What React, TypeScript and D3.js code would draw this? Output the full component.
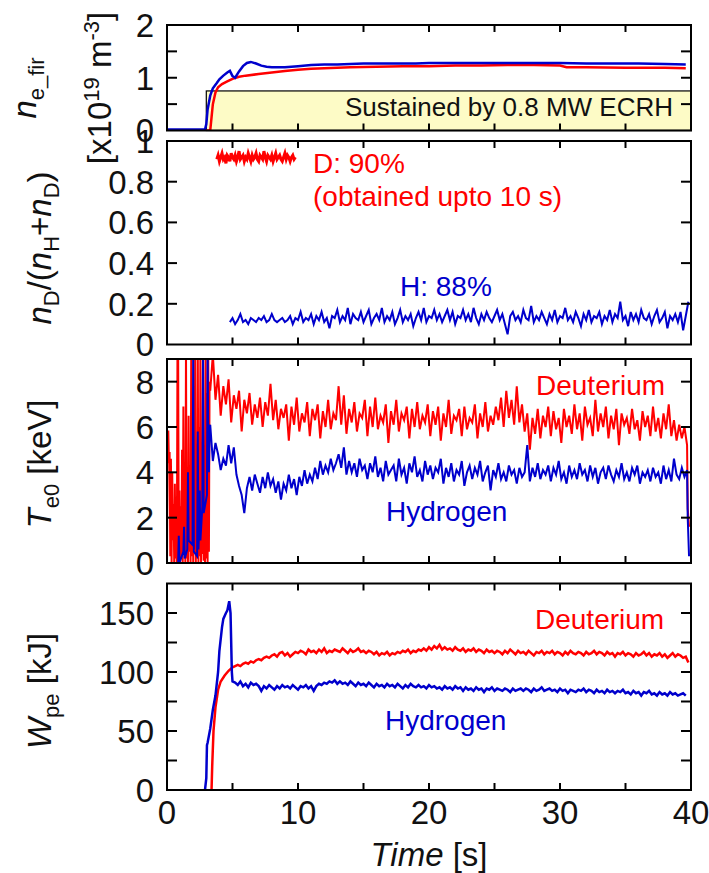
import React from "react";
import * as d3 from "d3";

// ---------- shared axis data ----------
const TIME_TICKS = [0, 5, 10, 15, 20, 25, 30, 35, 40];
const TIME_LABELS = [0, 10, 20, 30, 40];

// ---------- panel 1: line-averaged density ----------
const neHTime = [0, 2.9, 3.0, 3.1, 3.3, 3.5, 3.8, 4.0, 4.3, 4.6, 4.8, 5.0, 5.2, 5.5, 5.8, 6.1, 6.4, 6.8, 7.2, 7.6, 8.0, 9.0, 10.0, 11.0, 12.0, 13.0, 14.0, 15.0, 16.0, 17.0, 18.0, 19.0, 20.0, 22.0, 24.0, 26.0, 28.0, 30.0, 32.0, 34.0, 36.0, 38.0, 39.6];
const neHVal = [0.02, 0.02, 0.12, 0.4, 0.66, 0.8, 0.9, 0.97, 1.04, 1.1, 1.13, 1.03, 1.0, 1.12, 1.22, 1.28, 1.3, 1.27, 1.23, 1.21, 1.2, 1.2, 1.22, 1.24, 1.25, 1.25, 1.26, 1.27, 1.27, 1.27, 1.27, 1.27, 1.28, 1.28, 1.28, 1.28, 1.28, 1.28, 1.27, 1.27, 1.27, 1.26, 1.25];
const neDTime = [0, 3.3, 3.4, 3.5, 3.7, 3.9, 4.2, 4.6, 5.0, 5.5, 6.0, 7.0, 8.0, 9.0, 10.0, 11.0, 12.0, 14.0, 16.0, 18.0, 20.0, 22.0, 24.0, 26.0, 28.0, 30.0, 30.5, 32.0, 35.0, 38.0, 39.6];
const neDVal = [0, 0, 0.25, 0.5, 0.72, 0.82, 0.88, 0.93, 0.98, 1.02, 1.04, 1.07, 1.1, 1.13, 1.15, 1.17, 1.18, 1.2, 1.21, 1.22, 1.22, 1.23, 1.23, 1.24, 1.24, 1.23, 1.2, 1.2, 1.19, 1.19, 1.18];
const ECRH_START = 3.0;
const ECRH_LEVEL = 0.75;

// ---------- panel 2: isotope ratio ----------
const fracDStart = 3.8, fracDStep = 0.1;
const fracDVal = [0.91, 0.93, 0.9, 0.92, 0.94, 0.91, 0.92, 0.89, 0.93, 0.92, 0.9, 0.94, 0.92, 0.91, 0.93, 0.9, 0.92, 0.95, 0.91, 0.92, 0.93, 0.9, 0.92, 0.91, 0.94, 0.92, 0.9, 0.93, 0.91, 0.92, 0.94, 0.91, 0.9, 0.93, 0.92, 0.91, 0.95, 0.92, 0.9, 0.93, 0.92, 0.91, 0.93, 0.9, 0.92, 0.94, 0.91, 0.92, 0.93, 0.91, 0.9, 0.92, 0.94, 0.91, 0.93, 0.92, 0.9, 0.92, 0.93, 0.91, 0.92];
const fracHStart = 4.8, fracHStep = 0.2;
const fracHVal = [
  0.11, 0.13, 0.1, 0.12, 0.15, 0.11, 0.12, 0.1, 0.13, 0.12,
  0.11, 0.13, 0.12, 0.14, 0.11, 0.12, 0.15, 0.12, 0.11, 0.12,
  0.13, 0.11, 0.12, 0.14, 0.1, 0.13, 0.12, 0.16, 0.11, 0.13,
  0.12, 0.15, 0.1, 0.14, 0.12, 0.16, 0.11, 0.13, 0.08, 0.14,
  0.13, 0.17, 0.11, 0.14, 0.12, 0.18, 0.1, 0.15, 0.13, 0.12,
  0.16, 0.11, 0.14, 0.17, 0.1, 0.13, 0.15, 0.12, 0.18, 0.11,
  0.14, 0.12, 0.16, 0.1, 0.13, 0.17, 0.11, 0.14, 0.12, 0.15,
  0.09, 0.13, 0.16, 0.12, 0.18, 0.11, 0.14, 0.13, 0.17, 0.12,
  0.15, 0.11, 0.14, 0.17, 0.12, 0.16, 0.1, 0.14, 0.13, 0.17,
  0.12, 0.15, 0.11, 0.18, 0.13, 0.1, 0.15, 0.12, 0.16, 0.13,
  0.11, 0.14, 0.17, 0.12, 0.15, 0.1, 0.05, 0.14, 0.16, 0.12,
  0.14, 0.11, 0.17, 0.13, 0.12, 0.19, 0.11, 0.14, 0.12, 0.16,
  0.13, 0.1, 0.15, 0.12, 0.17, 0.11, 0.14, 0.13, 0.18, 0.12,
  0.14, 0.11, 0.16, 0.13, 0.09, 0.15, 0.12, 0.17, 0.11, 0.14,
  0.13, 0.16, 0.1, 0.14, 0.12, 0.17, 0.11, 0.15, 0.13, 0.21,
  0.12, 0.14, 0.09, 0.16, 0.12, 0.15, 0.11, 0.17, 0.13, 0.12,
  0.15, 0.1, 0.14, 0.17, 0.11, 0.13, 0.16, 0.08, 0.14, 0.12,
  0.15, 0.11, 0.16, 0.07, 0.14, 0.21,
];

// ---------- panel 3: central electron temperature ----------
const tePreStep = 0.05;
const teDPreStart = 0.0;
const teDPreVal = [0, 5.8, 5.8, 4.4, 4.9, 0.3, 4.6, 0, 4.0, 1.0, 2.6, 0, 3.5, 0.2, 1.2, 0, 9.6, 9.6, 0.1, 3.2, 0, 2.5, 0.3, 5.0, 0, 6.9, 0.4, 3.0, 0, 9.6, 0.2, 4.2, 0, 6.5, 0.5, 2.8, 0, 9.6, 0.3, 5.5, 0, 3.7, 0.6, 9.6, 0, 4.4, 0.2, 9.6, 0, 6.0, 0.3, 9.6, 0, 3.1, 0.4, 9.6, 0.1, 5.0, 0, 9.6, 0.2, 7.5, 0, 9.6, 0.5, 8.0];
const teHPreTime = [0.5, 0.85, 0.9, 0.95, 1.25, 1.3, 1.35, 1.55, 1.6, 1.65, 1.95, 2.0, 2.05, 2.3, 2.35, 2.4, 2.45, 2.5, 2.55, 2.7, 2.75, 2.8, 3.05, 3.1, 3.15, 3.2, 3.25];
const teHPreVal = [0, 0, 1.2, 0, 0.5, 1.6, 0.2, 0.6, 4.0, 1.0, 0.8, 9.6, 0.5, 0.3, 5.8, 0.6, 1.5, 3.2, 1.0, 2.5, 9.6, 2.2, 3.0, 9.6, 5.5, 4.0, 6.0];
const teStart = 3.3, teStep = 0.2;
const teDVal = [
  7.6, 9.2, 7.2, 8.3, 6.5, 7.8, 7.0, 8.1, 6.2, 7.4,
  6.8, 7.6, 5.8, 7.2, 6.6, 7.5, 6.1, 7.0, 6.4, 7.3,
  6.0, 7.1, 6.5, 7.9, 6.3, 7.2, 5.9, 6.8, 6.4, 7.0,
  5.4, 6.9, 6.1, 7.3, 5.8, 6.6, 6.2, 7.1, 5.6, 6.8,
  6.3, 7.0, 5.5, 6.7, 6.0, 7.2, 5.9, 6.6, 6.3, 7.8,
  6.1, 7.4, 5.7, 6.8, 6.2, 7.1, 5.8, 6.6, 6.4, 7.2,
  5.6, 6.9, 6.0, 7.3, 5.9, 6.5, 6.2, 7.0, 5.3, 6.7,
  6.1, 7.2, 5.8, 6.6, 6.3, 6.9, 5.5, 6.8, 6.0, 7.1,
  5.9, 6.5, 6.2, 7.0, 5.6, 6.7, 6.1, 6.9, 5.4, 6.6,
  6.0, 7.2, 5.7, 6.5, 6.3, 6.8, 5.6, 6.9, 5.9, 6.4,
  6.2, 7.0, 5.5, 6.6, 6.0, 7.1, 5.8, 6.5, 6.1, 6.9,
  6.3, 7.3, 6.0, 7.6, 6.4, 7.2, 6.1, 7.8, 6.2, 7.0,
  5.8, 6.6, 5.0, 6.4, 5.7, 6.8, 5.5, 6.5, 6.0, 6.9,
  5.6, 6.7, 5.9, 6.4, 5.3, 6.8, 6.0, 6.5, 5.7, 7.0,
  5.9, 6.6, 5.4, 6.9, 6.1, 6.4, 5.6, 7.2, 5.8, 6.6,
  6.0, 6.9, 5.5, 6.5, 5.9, 6.8, 5.2, 6.6, 6.1, 6.4,
  5.7, 6.8, 5.9, 6.3, 5.4, 6.7, 6.0, 6.5, 5.6, 6.9,
  5.8, 6.4, 5.5, 6.6, 5.9, 7.0, 5.6, 6.3, 5.4, 6.1,
  5.5, 6.0, 5.2,
];
const teHVal = [
  6.1, 4.5, 5.3, 4.8, 4.1, 4.6, 4.3, 5.2, 4.4, 5.1,
  3.9, 3.4, 3.0, 2.2, 3.3, 3.8, 3.2, 3.9, 3.5, 3.1,
  3.8, 3.3, 4.0, 3.4, 3.7, 3.1, 3.6, 2.8, 3.5, 3.2,
  3.9, 3.3, 3.7, 3.0, 3.8, 3.4, 4.1, 3.5, 3.9, 3.6,
  4.2, 3.7, 4.5, 3.9, 4.3, 4.0, 4.6, 4.1, 4.4, 4.8,
  4.2, 5.1, 3.9, 4.5, 4.0, 4.4, 3.8, 4.6, 4.1, 4.3,
  3.7, 4.4, 4.0, 4.7, 3.8, 4.2, 3.6, 4.5, 3.9, 4.1,
  4.3, 3.6, 4.6, 3.9, 4.2, 3.5, 4.4, 4.0, 4.7, 3.8,
  4.1, 3.6, 4.5, 3.9, 4.3, 3.7, 4.2, 4.0, 4.6, 3.5,
  4.2, 3.8, 4.4, 3.6, 4.1, 3.9, 4.5, 3.4, 4.0, 4.3,
  3.7, 4.2, 3.9, 4.5, 3.6, 4.0, 4.3, 3.2, 4.1, 3.8,
  4.4, 3.7, 4.0, 3.6, 4.3, 3.9, 4.1, 3.5, 4.2, 3.8,
  4.0, 5.2, 3.6, 4.2, 3.8, 4.4, 3.7, 4.1, 3.9, 4.3,
  3.6, 4.2, 3.9, 4.5, 3.7, 4.0, 3.5, 4.3, 3.8, 4.1,
  3.7, 4.4, 3.9, 4.1, 3.6, 4.3, 3.8, 4.2, 3.5, 4.0,
  4.2, 3.7, 4.3, 3.9, 3.6, 4.1, 3.8, 4.4, 3.7, 4.0,
  3.6, 4.2, 3.9, 4.3, 3.5, 4.0, 3.8, 4.1, 3.6, 4.2,
  3.8, 4.0, 3.5, 4.3, 3.7, 4.1, 3.6, 4.6, 3.9, 3.7,
  4.2, 3.8, 4.1,
];
const teDTailTime = [39.75, 39.85];
const teDTailVal = [2.4, 1.6];
const teHTailTime = [39.75, 39.85];
const teHTailVal = [2.0, 0.3];

// ---------- panel 4: stored energy ----------
const wpDRiseTime = [3.35, 3.4, 3.45, 3.55, 3.7, 3.9, 4.1, 4.4, 4.7, 5.0];
const wpDRiseVal = [0, 0, 20, 50, 70, 85, 92, 97, 101, 104];
const wpHRiseTime = [2.9, 3.0, 3.05, 3.1, 3.3, 3.5, 3.7, 3.9, 4.0, 4.2, 4.3, 4.5, 4.6, 4.75, 4.85, 4.95, 5.0];
const wpHRiseVal = [0, 10, 38, 40, 52, 68, 80, 100, 118, 138, 145, 150, 152, 160, 150, 100, 92];
const wpStart = 5.2, wpStep = 0.2;
const wpDVal = [
  105, 106, 105, 107, 108, 107, 109, 108, 110, 111,
  110, 112, 113, 112, 114, 115, 113, 116, 117, 114,
  116, 113, 115, 117, 116, 118, 117, 115, 119, 117,
  118, 116, 119, 117, 120, 116, 118, 117, 119, 118,
  117, 120, 118, 116, 119, 117, 118, 120, 117, 118,
  116, 118, 117, 115, 117, 114, 116, 115, 117, 114,
  116, 115, 117, 116, 118, 117, 119, 116, 118, 117,
  119, 118, 120, 118, 121, 119, 122, 120, 123, 119,
  121, 119, 120, 118, 121, 119, 118, 120, 117, 119,
  118, 120, 117, 119, 118, 116, 119, 117, 118, 116,
  118, 117, 115, 118, 116, 119, 117, 115, 118, 116,
  117, 115, 118, 116, 114, 117, 116, 118, 115, 117,
  116, 118, 115, 117, 116, 114, 117, 115, 118, 116,
  115, 117, 116, 114, 117, 115, 116, 118, 115, 117,
  116, 114, 117, 115, 116, 113, 116, 115, 117, 114,
  116, 115, 113, 116, 114, 115, 117, 114, 116, 113,
  115, 114, 116, 113, 115, 112, 114, 116, 113, 115,
  114, 112, 113, 108,
];
const wpHVal = [
  91, 89, 92, 88, 90, 87, 91, 89, 90, 88,
  84, 88, 86, 89, 87, 85, 88, 86, 89, 87,
  88, 86, 89, 87, 85, 88, 87, 89, 86, 88,
  84, 88, 90, 89, 91, 90, 92, 91, 93, 90,
  92, 90, 91, 89, 92, 90, 88, 91, 89, 90,
  88, 91, 89, 87, 90, 88, 89, 87, 90, 88,
  89, 87, 90, 88, 86, 89, 87, 90, 88, 87,
  89, 87, 88, 86, 89, 87, 88, 86, 87, 85,
  88, 86, 87, 85, 88, 86, 87, 84, 87, 85,
  86, 84, 87, 85, 86, 83, 86, 85, 87, 84,
  86, 85, 84, 86, 85, 83, 86, 84, 85, 86,
  84, 86, 85, 83, 86, 84, 85, 87, 84, 85,
  86, 84, 85, 83, 86, 84, 85, 82, 85, 84,
  83, 85, 84, 86, 83, 85, 84, 82, 85, 83,
  84, 82, 85, 83, 84, 82, 84, 83, 85, 82,
  83, 81, 84, 82, 83, 80, 83, 82, 84, 81,
  82, 80, 83, 81, 82, 80, 83, 81, 82, 80,
  81, 82, 80,
];

// ---------- helpers ----------
type Pt = [number, number];
const zipPts = (t: number[], v: number[]): Pt[] => t.map((tt, i) => [tt, v[i]] as Pt);
const evenPts = (start: number, step: number, v: number[]): Pt[] =>
  v.map((vv, i) => [+(start + i * step).toFixed(3), vv] as Pt);

const RED = "#ff0000";
const BLUE = "#0000cc";
const FONT = "'Liberation Sans', Arial, Helvetica, sans-serif";

const X0 = 167;
const X1 = 691;
const x = d3.scaleLinear().domain([0, 40]).range([X0, X1]);

interface PanelDef {
  id: string;
  top: number;
  bottom: number;
  domain: [number, number];
  ticks: number[];
  labels: number[];
  fmt: (v: number) => string;
}

const panels: PanelDef[] = [
  { id: "p1", top: 25, bottom: 130.5, domain: [0, 2], ticks: [0.5, 1, 1.5], labels: [0, 1, 2], fmt: (v) => String(v) },
  { id: "p2", top: 141, bottom: 344.5, domain: [0, 1], ticks: [0.2, 0.4, 0.6, 0.8], labels: [0, 0.2, 0.4, 0.6, 0.8, 1], fmt: (v) => String(v) },
  { id: "p3", top: 359, bottom: 563, domain: [0, 9], ticks: [2, 4, 6, 8], labels: [0, 2, 4, 6, 8], fmt: (v) => String(v) },
  { id: "p4", top: 583.5, bottom: 790, domain: [0, 175], ticks: [25, 50, 75, 100, 125, 150], labels: [0, 50, 100, 150], fmt: (v) => String(v) },
];

const yScale = (p: PanelDef) => d3.scaleLinear().domain(p.domain).range([p.bottom, p.top]);

function Frame({ p, showXLabels }: { p: PanelDef; showXLabels: boolean }) {
  const y = yScale(p);
  const tickLenY = 10;
  const tickLenX = 7;
  return (
    <g>
      {TIME_TICKS.filter((t) => t > 0 && t < 40).map((t) => (
        <g key={"xt" + t}>
          <line x1={x(t)} x2={x(t)} y1={p.bottom} y2={p.bottom - tickLenX} stroke="#000" strokeWidth={2} />
          <line x1={x(t)} x2={x(t)} y1={p.top} y2={p.top + tickLenX} stroke="#000" strokeWidth={2} />
        </g>
      ))}
      {p.ticks.map((v) => (
        <g key={"yt" + v}>
          <line x1={X0} x2={X0 + tickLenY} y1={y(v)} y2={y(v)} stroke="#000" strokeWidth={2} />
          <line x1={X1} x2={X1 - tickLenY} y1={y(v)} y2={y(v)} stroke="#000" strokeWidth={2} />
        </g>
      ))}
      <rect x={X0} y={p.top} width={X1 - X0} height={p.bottom - p.top} fill="none" stroke="#000" strokeWidth={2} />
      {p.labels.map((v) => (
        <text key={"yl" + v} x={154} y={y(v)} dy="0.36em" textAnchor="end" fontSize={33} fontFamily={FONT} fill="#111">
          {p.fmt(v)}
        </text>
      ))}
      {showXLabels &&
        TIME_LABELS.map((t) => (
          <text key={"xl" + t} x={x(t)} y={824} textAnchor="middle" fontSize={33} fontFamily={FONT} fill="#111">
            {t}
          </text>
        ))}
    </g>
  );
}

function Trace({ pts, p, color, width = 2 }: { pts: Pt[]; p: PanelDef; color: string; width?: number }) {
  const y = yScale(p);
  const line = d3
    .line<Pt>()
    .x((d) => x(d[0]))
    .y((d) => y(d[1]));
  return <path d={line(pts) || ""} fill="none" stroke={color} strokeWidth={width} strokeLinejoin="miter" clipPath={`url(#clip-${p.id})`} />;
}

export default function App() {
  const [p1, p2, p3, p4] = panels;
  const y1 = yScale(p1);

  const neH = zipPts(neHTime, neHVal);
  const neD = zipPts(neDTime, neDVal);
  const fracD = evenPts(fracDStart, fracDStep, fracDVal);
  const fracH = evenPts(fracHStart, fracHStep, fracHVal);
  const teD = [
    ...evenPts(teDPreStart, tePreStep, teDPreVal),
    ...evenPts(teStart, teStep, teDVal),
    ...zipPts(teDTailTime, teDTailVal),
  ];
  const teH = [
    ...zipPts(teHPreTime, teHPreVal),
    ...evenPts(teStart, teStep, teHVal),
    ...zipPts(teHTailTime, teHTailVal),
  ];
  const wpD = [...zipPts(wpDRiseTime, wpDRiseVal), ...evenPts(wpStart, wpStep, wpDVal)];
  const wpH = [...zipPts(wpHRiseTime, wpHRiseVal), ...evenPts(wpStart, wpStep, wpHVal)];

  const sub = 22;
  const big = 33;

  return (
    <svg width={709} height={873} style={{ position: "absolute", left: 0, top: 0, background: "#fff" }} fontFamily={FONT}>
      <defs>
        {panels.map((p) => (
          <clipPath id={`clip-${p.id}`} key={p.id}>
            <rect x={X0} y={p.top} width={X1 - X0} height={p.bottom - p.top} />
          </clipPath>
        ))}
      </defs>
      <rect width={709} height={873} fill="#fff" />

      {/* Panel 1 */}
      <rect
        x={x(ECRH_START)}
        y={y1(ECRH_LEVEL)}
        width={X1 - x(ECRH_START)}
        height={y1(0) - y1(ECRH_LEVEL)}
        fill="#fdfbc6"
        stroke="#000"
        strokeWidth={1.2}
      />
      <text x={673} y={116} textAnchor="end" fontSize={26} fill="#111">
        Sustained by 0.8 MW ECRH
      </text>
      <Trace pts={neD} p={p1} color={RED} width={2.5} />
      <Trace pts={neH} p={p1} color={BLUE} width={2.5} />
      <Frame p={p1} showXLabels={false} />

      {/* Panel 2 */}
      <Trace pts={fracD} p={p2} color={RED} width={3} />
      <Trace pts={fracH} p={p2} color={BLUE} width={2} />
      <Frame p={p2} showXLabels={false} />
      <text x={313} y={173} fontSize={28} fill={RED}>D: 90%</text>
      <text x={313} y={206} fontSize={28} fill={RED}>(obtained upto 10 s)</text>
      <text x={400} y={296} fontSize={28} fill={BLUE}>H: 88%</text>

      {/* Panel 3 */}
      <Trace pts={teD} p={p3} color={RED} width={2} />
      <Trace pts={teH} p={p3} color={BLUE} width={2} />
      <Frame p={p3} showXLabels={false} />
      <text x={536} y={395} fontSize={28} fill={RED}>Deuterium</text>
      <text x={386} y={521} fontSize={28} fill={BLUE}>Hydrogen</text>

      {/* Panel 4 */}
      <Trace pts={wpD} p={p4} color={RED} width={2.5} />
      <Trace pts={wpH} p={p4} color={BLUE} width={2.5} />
      <Frame p={p4} showXLabels={true} />
      <text x={535} y={629} fontSize={28} fill={RED}>Deuterium</text>
      <text x={385} y={730} fontSize={28} fill={BLUE}>Hydrogen</text>

      {/* X axis title */}
      <text x={(X0 + X1) / 2} y={866} textAnchor="middle" fontSize={big} fill="#111">
        <tspan fontStyle="italic">Time</tspan>
        <tspan> [s]</tspan>
      </text>

      {/* Y axis titles */}
      <text transform="translate(36,88) rotate(-90)" textAnchor="middle" fontSize={big} fill="#111">
        <tspan fontStyle="italic">n</tspan>
        <tspan fontSize={sub} dy={8}>e_fir</tspan>
      </text>
      <text transform="translate(111,88) rotate(-90)" textAnchor="middle" fontSize={big} fill="#111">
        <tspan>[x10</tspan>
        <tspan fontSize={sub} dy={-12}>19</tspan>
        <tspan dy={12}> m</tspan>
        <tspan fontSize={sub} dy={-12}>-3</tspan>
        <tspan dy={12}>]</tspan>
      </text>
      <text transform="translate(51,248) rotate(-90)" textAnchor="middle" fontSize={big} fill="#111">
        <tspan fontStyle="italic">n</tspan>
        <tspan fontSize={sub} dy={8}>D</tspan>
        <tspan dy={-8}>/(</tspan>
        <tspan fontStyle="italic">n</tspan>
        <tspan fontSize={sub} dy={8}>H</tspan>
        <tspan dy={-8}>+</tspan>
        <tspan fontStyle="italic">n</tspan>
        <tspan fontSize={sub} dy={8}>D</tspan>
        <tspan dy={-8}>)</tspan>
      </text>
      <text transform="translate(51,464) rotate(-90)" textAnchor="middle" fontSize={big} fill="#111">
        <tspan fontStyle="italic">T</tspan>
        <tspan fontSize={sub} dy={8}>e0</tspan>
        <tspan dy={-8}> [keV]</tspan>
      </text>
      <text transform="translate(51,691) rotate(-90)" textAnchor="middle" fontSize={big} fill="#111">
        <tspan fontStyle="italic">W</tspan>
        <tspan fontSize={sub} dy={8}>pe</tspan>
        <tspan dy={-8}> [kJ]</tspan>
      </text>
    </svg>
  );
}
